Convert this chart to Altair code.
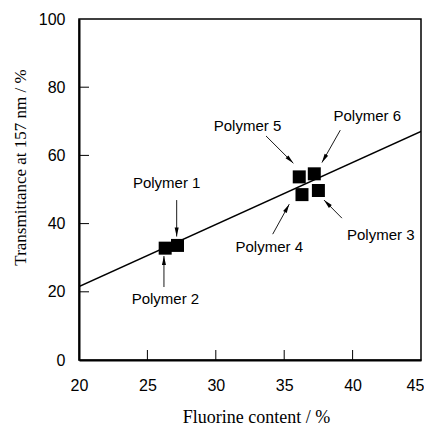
import math
import altair as alt
import pandas as pd

# ---- data ----
names = ["Polymer 1", "Polymer 2", "Polymer 3", "Polymer 4", "Polymer 5", "Polymer 6"]
fluorine = [27.2, 26.3, 37.5, 36.3, 36.1, 37.2]
transmittance = [33.6, 32.8, 49.7, 48.5, 53.7, 54.6]

fit_x = [20, 45]
fit_y = [21.5, 67.0]

label_x = [26.41, 26.32, 42.06, 33.91, 32.32, 41.07]
label_y = [51.8, 18.0, 36.7, 33.2, 68.6, 71.6]

arrow_x_tail = [27.14, 26.21, 39.22, 34.16, 33.67, 39.10]
arrow_y_tail = [46.9, 21.4, 41.6, 36.9, 65.7, 67.4]
arrow_x_head = [27.14, 26.21, 37.91, 35.37, 35.67, 37.76]
arrow_y_head = [36.2, 30.5, 46.9, 45.7, 57.7, 57.9]

x_ticks = [25, 30, 35, 40]
y_ticks = [20, 40, 60, 80]

W, H = 342, 341
XD, YD = [20, 45], [0, 100]

sx = W / (XD[1] - XD[0])
sy = H / (YD[1] - YD[0])
angles = []
for xt, yt, xh, yh in zip(arrow_x_tail, arrow_y_tail, arrow_x_head, arrow_y_head):
    dx = (xh - xt) * sx
    dy = -(yh - yt) * sy
    angles.append(math.degrees(math.atan2(dx, -dy)) % 360)

pts = pd.DataFrame({"name": names, "x": fluorine, "y": transmittance})
fit = pd.DataFrame({"x": fit_x, "y": fit_y})
labels = pd.DataFrame({"name": names, "x": label_x, "y": label_y})
arrows = pd.DataFrame({"xt": arrow_x_tail, "yt": arrow_y_tail,
                       "xh": arrow_x_head, "yh": arrow_y_head, "ang": angles})
xt_df = pd.DataFrame({"x": x_ticks})
yt_df = pd.DataFrame({"y": y_ticks})

xs = alt.Scale(domain=XD, nice=False, zero=False)
ys = alt.Scale(domain=YD, nice=False)

x_axis = alt.Axis(title="Fluorine content / %", values=[20, 25, 30, 35, 40, 45],
                  ticks=False, grid=False, labelPadding=17, labelFlush=False,
                  labelOffset={"condition": {"test": "datum.value == 45", "value": -6}, "value": 0},
                  domainColor="black", domainWidth=2,
                  labelFont="Liberation Sans", labelFontSize=16, labelColor="black",
                  titleFont="Liberation Serif", titleFontSize=18, titleFontWeight="normal",
                  titleColor="black", titleX=177, titleY=57, titleBaseline="middle",
                  titleAnchor="middle", titleAlign="center")
y_axis = alt.Axis(title="Transmittance at 157 nm / %", values=[0, 20, 40, 60, 80, 100],
                  ticks=False, grid=False, labelPadding=14, labelFlush=False,
                  domainColor="black", domainWidth=2,
                  labelFont="Liberation Sans", labelFontSize=16, labelColor="black",
                  titleFont="Liberation Serif", titleFontSize=17, titleFontWeight="normal",
                  titleColor="black", titleX=-59, titleY=148, titleBaseline="middle",
                  titleAngle=270, titleAlign="center", titleAnchor="middle")

line = alt.Chart(fit).mark_line(color="black", strokeWidth=1.5, clip=True).encode(
    x=alt.X("x:Q", scale=xs, axis=x_axis),
    y=alt.Y("y:Q", scale=ys, axis=y_axis),
)

squares = alt.Chart(pts).mark_square(size=169, color="black", opacity=1, filled=True).encode(
    x=alt.X("x:Q", scale=xs), y=alt.Y("y:Q", scale=ys)
)

xticks = alt.Chart(xt_df).mark_rule(color="black", strokeWidth=1).encode(
    x=alt.X("x:Q", scale=xs), y=alt.value(H), y2=alt.value(H - 10)
)
yticks = alt.Chart(yt_df).mark_rule(color="black", strokeWidth=1).encode(
    y=alt.Y("y:Q", scale=ys), x=alt.value(0), x2=alt.value(10)
)

shafts = alt.Chart(arrows).mark_rule(color="black", strokeWidth=0.9).encode(
    x=alt.X("xt:Q", scale=xs), y=alt.Y("yt:Q", scale=ys),
    x2="xh:Q", y2="yh:Q"
)
heads = alt.Chart(arrows).mark_point(
    shape="M0,0L0.45,2L-0.45,2Z", size=81, filled=True, color="black", opacity=1
).encode(
    x=alt.X("xh:Q", scale=xs), y=alt.Y("yh:Q", scale=ys),
    angle=alt.Angle("ang:Q", scale=None)
)

texts = alt.Chart(labels).mark_text(
    font="Liberation Sans", fontSize=15, color="black", align="center", baseline="middle"
).encode(
    x=alt.X("x:Q", scale=xs), y=alt.Y("y:Q", scale=ys), text="name:N"
)

chart = alt.layer(line, xticks, yticks, shafts, heads, squares, texts).properties(
    width=W, height=H,
    autosize=alt.AutoSizeParams(type="none"),
    padding={"left": 71, "top": 11, "right": 3, "bottom": 66},
).configure_view(stroke="black", strokeWidth=1.5)

chart.save("out.html", embed_options={"renderer": "svg", "actions": False})
